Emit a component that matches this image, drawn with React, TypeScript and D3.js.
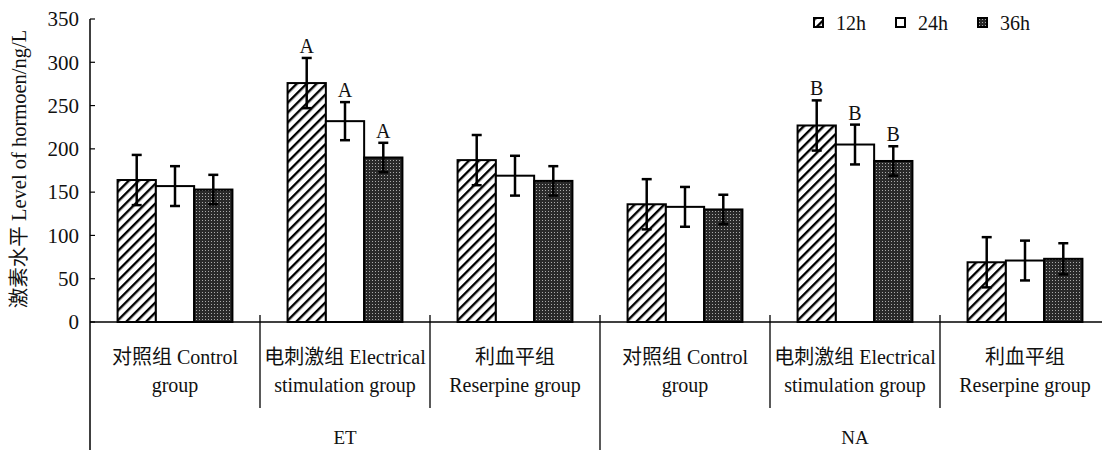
import { scaleBand, scaleLinear } from "d3";

const categories = ["etControl", "etElectric", "etReserpine", "naControl", "naElectric", "naReserpine"];
const categoryLines = [
  ["对照组 Control", "group"],
  ["电刺激组 Electrical", "stimulation group"],
  ["利血平组", "Reserpine group"],
  ["对照组 Control", "group"],
  ["电刺激组 Electrical", "stimulation group"],
  ["利血平组", "Reserpine group"],
];
const hormones = ["ET", "NA"];
const seriesNames = ["12h", "24h", "36h"];

const values12h = [164, 276, 187, 136, 227, 69];
const values24h = [157, 232, 169, 133, 205, 71];
const values36h = [153, 190, 163, 130, 186, 73];
const err12h = [29, 29, 29, 29, 29, 29];
const err24h = [23, 22, 23, 23, 23, 23];
const err36h = [17, 17, 17, 17, 17, 18];
const sigLetters = ["", "A", "", "", "B", ""];
const yTicks = [0, 50, 100, 150, 200, 250, 300, 350];

const FONT = "'Liberation Serif', 'Times New Roman', 'Noto Sans CJK SC', serif";
const fills = ["url(#hatch)", "#fff", "url(#dots)"];

export default function App() {
  const x0 = 90;
  const groupW = 170;
  const y = scaleLinear().domain([0, 350]).range([322, 19]);
  const gx = scaleBand<string>()
    .domain(categories)
    .range([x0, x0 + groupW * categories.length]);
  const sx = scaleBand<string>()
    .domain(seriesNames)
    .range([0, gx.bandwidth()])
    .paddingOuter(0.72);

  const vals = [values12h, values24h, values36h];
  const errs = [err12h, err24h, err36h];

  return (
    <svg
      width={1102}
      height={450}
      style={{ position: "absolute", left: 0, top: 0, background: "#fff" }}
      fontFamily={FONT}
      fill="#111"
    >
      <defs>
        <pattern id="hatch" width={7} height={7} patternUnits="userSpaceOnUse" patternTransform="rotate(45)">
          <rect width={7} height={7} fill="#fff" />
          <rect x={0} y={0} width={2.4} height={7} fill="#000" />
        </pattern>
        <pattern id="dots" width={3} height={3} patternUnits="userSpaceOnUse">
          <rect width={3} height={3} fill="#2a2a2a" />
          <rect x={1} y={1} width={1} height={1} fill="#aaa" />
        </pattern>
      </defs>

      {/* y axis */}
      <line x1={x0} x2={x0} y1={y(350)} y2={450} stroke="#000" strokeWidth={1.5} />
      {yTicks.map((t) => (
        <g key={t}>
          <line x1={x0} x2={x0 + 5} y1={y(t)} y2={y(t)} stroke="#000" strokeWidth={1.2} />
          <text x={79} y={y(t)} dy="0.35em" textAnchor="end" fontSize={21}>
            {t}
          </text>
        </g>
      ))}
      <text
        transform={`translate(19,${169}) rotate(-90)`}
        textAnchor="middle"
        dy="0.35em"
        fontSize={20.5}
      >
        激素水平 Level of hormoen/ng/L
      </text>

      {/* x axis */}
      <line x1={x0} x2={1102} y1={y(0)} y2={y(0)} stroke="#000" strokeWidth={1.5} />
      {categories.map((c, i) => {
        const left = gx(c)!;
        const long = i % 3 === 0;
        return (
          <g key={"d" + c}>
            {i > 0 && (
              <line x1={left} x2={left} y1={y(0) - 7} y2={long ? 450 : 408} stroke="#000" strokeWidth={1.3} />
            )}
            {categoryLines[i].map((ln, k) => (
              <text key={k} x={left + groupW / 2} y={357 + k * 28} dy="0.35em" textAnchor="middle" fontSize={20}>
                {ln}
              </text>
            ))}
          </g>
        );
      })}
      <line x1={gx(categories[5])! + groupW} x2={gx(categories[5])! + groupW} y1={y(0) - 7} y2={408} stroke="#000" strokeWidth={1.3} />
      {hormones.map((h, i) => (
        <text key={h} x={x0 + groupW * 3 * i + (groupW * 3) / 2} y={444} textAnchor="middle" fontSize={19}>
          {h}
        </text>
      ))}

      {/* bars */}
      {categories.map((c, i) => (
        <g key={c} transform={`translate(${gx(c)},0)`}>
          {seriesNames.map((s, j) => {
            const v = vals[j][i];
            const e = errs[j][i];
            const bx = sx(s)!;
            const bw = sx.bandwidth();
            const cx = bx + bw / 2;
            return (
              <g key={s}>
                <rect x={bx} y={y(v)} width={bw} height={y(0) - y(v)} fill={fills[j]} stroke="#000" strokeWidth={2} />
                <line x1={cx} x2={cx} y1={y(v + e)} y2={y(v - e)} stroke="#000" strokeWidth={2.5} />
                <line x1={cx - 5} x2={cx + 5} y1={y(v + e)} y2={y(v + e)} stroke="#000" strokeWidth={2.5} />
                <line x1={cx - 5} x2={cx + 5} y1={y(v - e)} y2={y(v - e)} stroke="#000" strokeWidth={2.5} />
                {sigLetters[i] && (
                  <text x={cx} y={y(v + e) - 5} textAnchor="middle" fontSize={20}>
                    {sigLetters[i]}
                  </text>
                )}
              </g>
            );
          })}
        </g>
      ))}

      {/* legend */}
      {seriesNames.map((s, j) => (
        <g key={"lg" + s} transform={`translate(${814 + j * 82},18)`}>
          <rect x={0} y={0} width={9} height={9} fill={fills[j]} stroke="#000" strokeWidth={2} />
          <text x={22} y={5} dy="0.35em" fontSize={20}>
            {s}
          </text>
        </g>
      ))}
    </svg>
  );
}
